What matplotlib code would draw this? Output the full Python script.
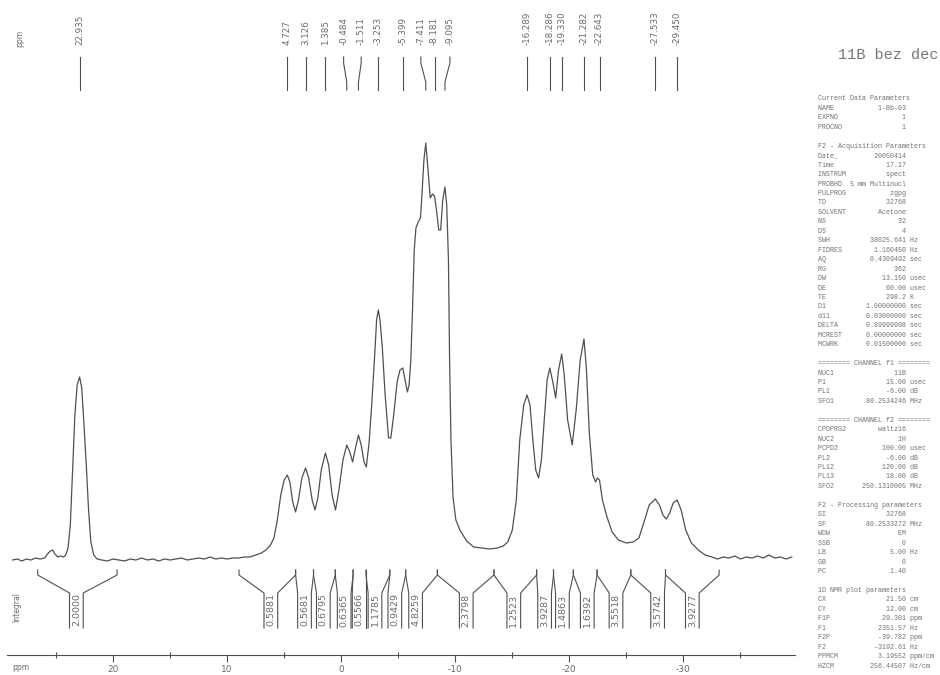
import matplotlib.pyplot as plt

# 11B spectrum trace: chemical shift (ppm) and intensity
shift_ppm = [
    28.8, 28.4, 28.0, 27.6, 27.2, 26.8, 26.4, 26.0, 25.75, 25.5, 25.3, 25.1,
    24.85, 24.6, 24.35, 24.15, 23.95, 23.75, 23.55, 23.35, 23.15, 22.935,
    22.75, 22.55, 22.35, 22.15, 21.95, 21.7, 21.4, 21.0, 20.5, 20.0, 19.5,
    19.0, 18.5, 18.0, 17.5, 17.0, 16.5, 16.0, 15.5, 15.0, 14.5, 14.0, 13.5,
    13.0, 12.5, 12.0, 11.5, 11.0, 10.5, 10.0, 9.5, 9.0, 8.5, 8.0, 7.5, 7.0,
    6.6, 6.2, 5.9, 5.6, 5.3, 5.0, 4.727, 4.5, 4.25, 4.0, 3.75, 3.45, 3.126,
    2.85, 2.55, 2.3, 2.05, 1.75, 1.385, 1.1, 0.8, 0.5, 0.2, -0.15, -0.484,
    -0.75, -1.0, -1.25, -1.511, -1.75, -2.0, -2.2, -2.45, -2.7, -2.95, -3.1,
    -3.253, -3.4, -3.6, -3.85, -4.15, -4.35, -4.6, -4.9, -5.15, -5.399, -5.6,
    -5.8, -5.95, -6.1, -6.25, -6.4, -6.55, -6.75, -6.95, -7.1, -7.25, -7.411,
    -7.6, -7.8, -8.0, -8.181, -8.35, -8.55, -8.72, -8.9, -9.095, -9.25, -9.4,
    -9.5, -9.62, -9.8, -10.05, -10.4, -11.0, -11.6, -12.3, -13.0, -13.7,
    -14.2, -14.6, -15.0, -15.35, -15.65, -16.0, -16.289, -16.55, -16.8,
    -17.05, -17.3, -17.55, -17.8, -18.05, -18.286, -18.55, -18.8, -19.05,
    -19.33, -19.55, -19.85, -20.25, -20.6, -20.95, -21.282, -21.5, -21.75,
    -22.05, -22.3, -22.45, -22.643, -22.9, -23.3, -23.75, -24.3, -25.0,
    -25.6, -26.1, -26.6, -27.0, -27.533, -27.9, -28.2, -28.5, -28.8, -29.1,
    -29.45, -29.8, -30.2, -30.7, -31.3, -31.9, -32.5, -33.0, -33.5, -34.0,
    -34.5, -35.0, -35.5, -36.0, -36.5, -37.0, -37.5, -38.0, -38.5, -39.0,
    -39.5,
]
intensity = [
    0, 1, -1, 1, 0, 2, 1, 2, 6, 9, 10, 6,
    3, 4, 3, 5, 12, 35, 90, 145, 175, 183,
    172, 135, 95, 50, 18, 5, 1, 0, -1, 1, 0,
    -1, 1, 0, 2, 0, 1, -1, 1, 0, 1, 2, 0,
    1, 2, 1, 3, 1, 2, 1, 2, 2, 3, 3, 5, 7,
    10, 15, 22, 40, 65, 80, 85, 78, 58, 48, 60, 82, 92,
    82, 60, 50, 62, 90, 107, 95, 65, 50, 70, 100, 115,
    108, 98, 112, 125, 115, 98, 93, 118, 160, 208, 240,
    250, 240, 213, 165, 122, 122, 145, 178, 190, 192, 180,
    168, 175, 200, 250, 310, 332, 338, 342, 370, 400, 417,
    392, 362, 366, 364, 350, 330, 330, 360, 373, 355, 300,
    200, 120, 63, 40, 30, 19, 13, 12, 11, 12,
    14, 18, 30, 60, 120, 155, 165, 155, 120,
    90, 82, 100, 140, 180, 192, 178, 162, 190,
    206, 185, 140, 115, 150, 200, 221, 190, 127,
    85, 78, 82, 80, 60, 43, 28, 20, 17,
    18, 22, 40, 55, 61, 55, 45, 41, 47, 57,
    60, 50, 30, 17, 10, 5, 3, 1, 3, 2,
    4, 1, 3, 2, 4, 2, 5, 2, 3, 1,
    3,
]

# picked peaks and where their labels sit
peak_ppm = [22.935, 4.727, 3.126, 1.385, -0.484, -1.511, -3.253, -5.399,
            -7.411, -8.181, -9.095, -16.289, -18.286, -19.330, -21.282,
            -22.643, -27.533, -29.450]
peak_label_ppm = [22.935, 4.727, 3.126, 1.385, -0.21, -1.75, -3.253, -5.399,
                  -6.98, -8.181, -9.53, -16.289, -18.286, -19.330, -21.282,
                  -22.643, -27.533, -29.450]

# integral regions (start, end), label centre and value
integral_start = [26.61, 8.96, 4.00, 2.43, 0.52, -1.04, -2.17, -4.26, -5.65,
                  -8.43, -13.39, -17.13, -18.61, -20.35, -22.43, -25.39, -28.43]
integral_end = [19.65, 4.00, 2.43, 0.52, -1.04, -2.17, -4.26, -5.65, -8.43,
                -13.39, -17.13, -18.61, -20.35, -22.43, -25.39, -28.43, -33.13]
integral_label_ppm = [23.22, 6.17, 3.22, 1.57, -0.26, -1.57, -2.96, -4.70,
                      -6.52, -10.96, -15.13, -17.83, -19.39, -21.57, -24.09,
                      -27.74, -30.78]
integral_value = ["2.0000", "0.5881", "0.5681", "0.6795", "0.6365", "0.5566",
                  "1.1785", "0.9429", "4.8259", "2.3798", "1.2523", "3.9287",
                  "1.4863", "1.6392", "3.5518", "3.5742", "3.9277"]

major_ticks = [20, 10, 0, -10, -20, -30]
minor_ticks = [25, 15, 5, -5, -15, -25, -35]

# acquisition / processing parameter listing
params = [
    ("Current Data Parameters",),
    ("NAME", "1-Bb-03", ""),
    ("EXPNO", "1", ""),
    ("PROCNO", "1", ""),
    None,
    ("F2 - Acquisition Parameters",),
    ("Date_", "20050414", ""),
    ("Time", "17.17", ""),
    ("INSTRUM", "spect", ""),
    ("PROBHD", "5 mm Multinucl", ""),
    ("PULPROG", "zgpg", ""),
    ("TD", "32768", ""),
    ("SOLVENT", "Acetone", ""),
    ("NS", "32", ""),
    ("DS", "4", ""),
    ("SWH", "38025.641", "Hz"),
    ("FIDRES", "1.160450", "Hz"),
    ("AQ", "0.4309492", "sec"),
    ("RG", "362", ""),
    ("DW", "13.150", "usec"),
    ("DE", "60.00", "usec"),
    ("TE", "298.2", "K"),
    ("D1", "1.00000000", "sec"),
    ("d11", "0.03000000", "sec"),
    ("DELTA", "0.89999998", "sec"),
    ("MCREST", "0.00000000", "sec"),
    ("MCWRK", "0.01500000", "sec"),
    None,
    ("======== CHANNEL f1 ========",),
    ("NUC1", "11B", ""),
    ("P1", "15.00", "usec"),
    ("PL1", "-6.00", "dB"),
    ("SFO1", "80.2534246", "MHz"),
    None,
    ("======== CHANNEL f2 ========",),
    ("CPDPRG2", "waltz16", ""),
    ("NUC2", "1H", ""),
    ("PCPD2", "100.00", "usec"),
    ("PL2", "-6.00", "dB"),
    ("PL12", "120.00", "dB"),
    ("PL13", "18.00", "dB"),
    ("SFO2", "250.1310005", "MHz"),
    None,
    ("F2 - Processing parameters",),
    ("SI", "32768", ""),
    ("SF", "80.2533272", "MHz"),
    ("WDW", "EM", ""),
    ("SSB", "0", ""),
    ("LB", "5.00", "Hz"),
    ("GB", "0", ""),
    ("PC", "1.40", ""),
    None,
    ("1D NMR plot parameters",),
    ("CX", "21.50", "cm"),
    ("CY", "12.00", "cm"),
    ("F1P", "29.301", "ppm"),
    ("F1", "2351.57", "Hz"),
    ("F2P", "-39.782", "ppm"),
    ("F2", "-3192.61", "Hz"),
    ("PPMCM", "3.19552", "ppm/cm"),
    ("HZCM", "256.44507", "Hz/cm"),
]

INK = "#505050"
TEXT = "#6a6a6a"
W, H = 940, 675

plt.rcParams["axes.unicode_minus"] = False
fig = plt.figure(figsize=(W / 100, H / 100), dpi=100)
fig.patch.set_facecolor("white")

ax = fig.add_axes([7 / W, 20 / H, 788 / W, 655 / H])
ax.set_xlim(29.301, -39.782)
ax.set_ylim(-95, 560)
ax.plot(shift_ppm, intensity, color=INK, lw=0.9)

# peak labels with leader lines
for p, lp in zip(peak_ppm, peak_label_ppm):
    ax.plot([lp, lp, p, p], [503, 497, 478, 470], color=INK, lw=0.8)
    ax.text(lp, 515, f"{p:.3f}", rotation=90, ha="center", va="bottom",
            fontsize=6.3, color=TEXT)

# integral brackets
hw = 0.6
for a, b, c, v in zip(integral_start, integral_end, integral_label_ppm,
                      integral_value):
    ax.plot([a, a, c + hw, c + hw], [-10, -15, -33, -68], color=INK, lw=0.8)
    ax.plot([b, b, c - hw, c - hw], [-10, -15, -33, -68], color=INK, lw=0.8)
    ax.text(c, -50, v, rotation=90, ha="center", va="center", fontsize=6.8,
            color=TEXT)

for side in ["top", "left", "right"]:
    ax.spines[side].set_visible(False)
ax.spines["bottom"].set_color(INK)
ax.spines["bottom"].set_linewidth(0.8)
ax.set_yticks([])
ax.set_xticks(major_ticks)
ax.set_xticks(minor_ticks, minor=True)
ax.set_xticklabels([str(t) for t in major_ticks])
ax.tick_params(axis="x", which="major", direction="out", length=5, width=0.8,
               color=INK, labelsize=6.5, labelcolor=TEXT, pad=2)
ax.tick_params(axis="x", which="minor", direction="inout", length=4,
               width=0.8, color=INK)

fig.text(12 / W, 1 - 668 / H, "ppm", fontsize=5.5, color=TEXT, va="center")
fig.text(20 / W, 1 - 38 / H, "ppm", fontsize=5.5, color=TEXT, rotation=90,
         ha="center", va="center")
fig.text(17 / W, 1 - 607 / H, "Integral", fontsize=5.5, color=TEXT,
         rotation=90, ha="center", va="center")

fig.text(838 / W, 1 - 55 / H, "11B bez dec", family="Liberation Mono",
         fontsize=11, color="#777777", va="center")

for i, row in enumerate(params):
    if row is None:
        continue
    if len(row) == 1:
        line = row[0]
    else:
        key, val, unit = row
        line = f"{key:<8}{val:>14} {unit}"
    fig.text(818 / W, 1 - (99 + i * 9.45) / H, line,
             family="Liberation Mono", fontsize=4.8, color="#707070",
             va="center")

fig.savefig("out.png", dpi=100)
